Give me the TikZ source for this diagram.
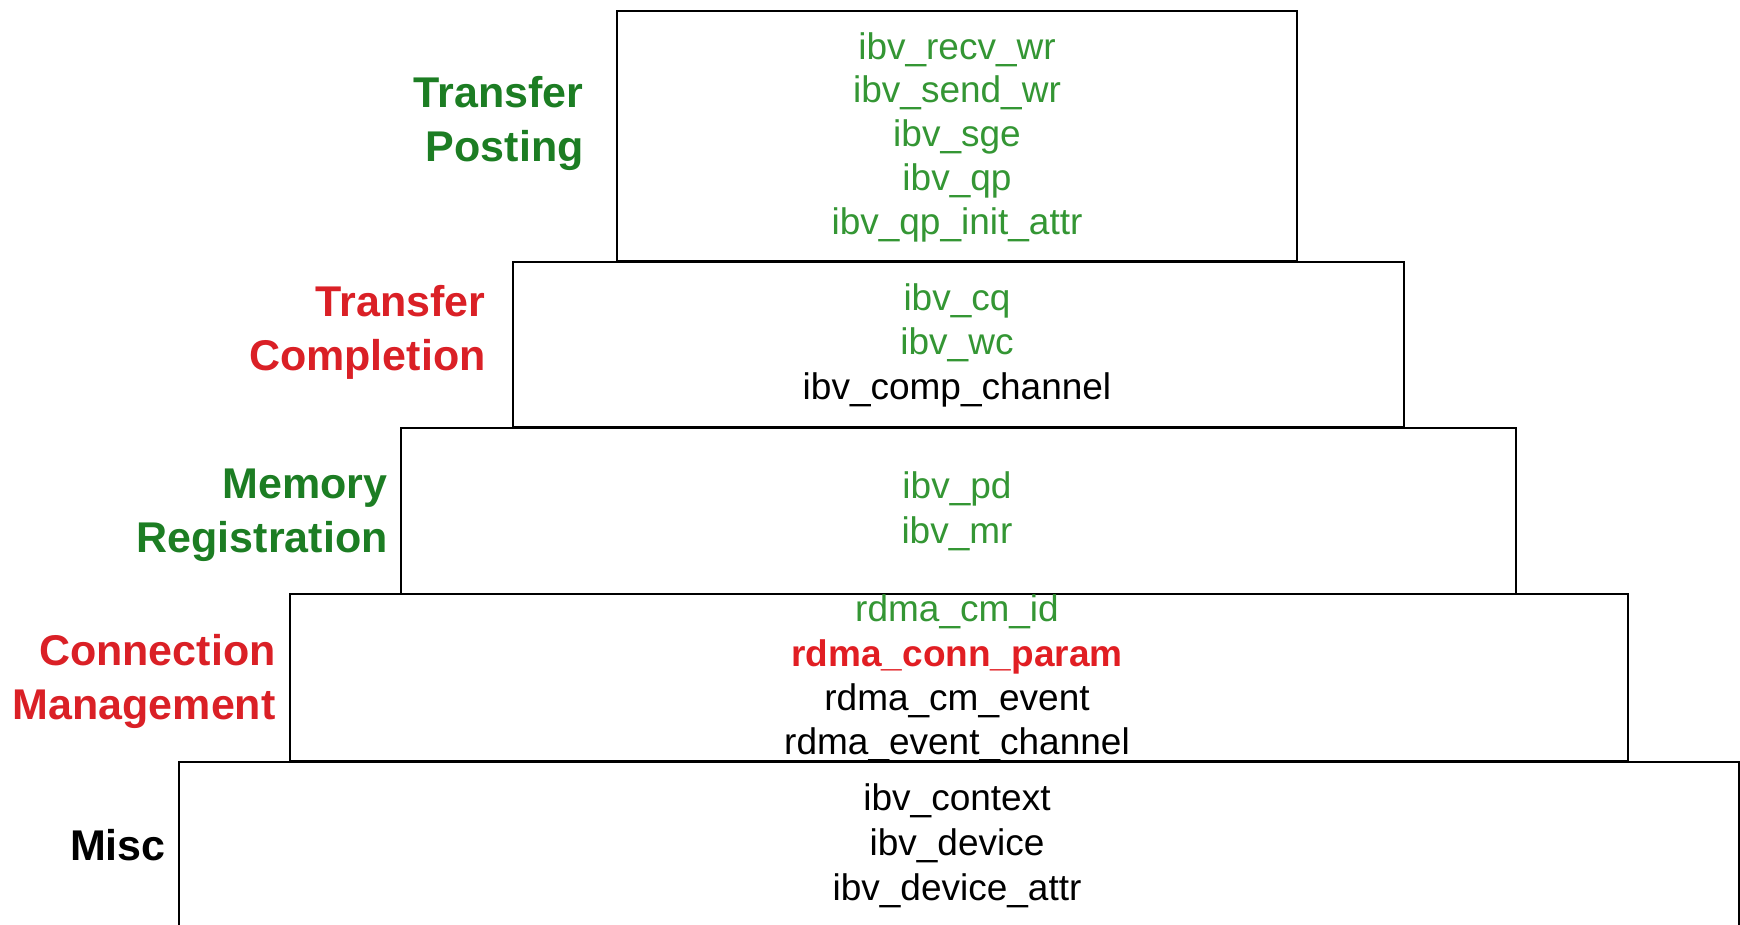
\documentclass[tikz,border=0pt]{standalone}
\usepackage{fontspec}
\setmainfont{Liberation Sans}
\definecolor{itemgreen}{RGB}{52,150,52}
\definecolor{labelgreen}{RGB}{28,125,35}
\definecolor{labelred}{RGB}{218,32,38}
\definecolor{itemred}{RGB}{225,30,35}
\tikzset{
  layer/.style={draw=black, line width=1pt, inner sep=0pt, fill=none},
  item/.style={inner sep=0pt, font=\fontsize{18.5}{22}\selectfont, text height=0.72em, text depth=0.21em, anchor=center},
  lab/.style={inner sep=0pt, font=\fontsize{21.5}{27}\selectfont\bfseries, align=right, anchor=east},
}
\begin{document}
\begin{tikzpicture}[x=0.5pt,y=-0.5pt]
\useasboundingbox (0,0) rectangle (1740,925);
\begin{scope}
\clip (0,0) rectangle (1740,925);
% layers
\node[layer, minimum width=340pt, minimum height=125pt] (b1) at (957,136) {};
\node[layer, minimum width=445.5pt, minimum height=82.5pt] (b2) at (958.5,344.5) {};
\node[layer, minimum width=557.5pt, minimum height=83pt] (b3) at (958.5,511) {};
\node[layer, minimum width=669pt, minimum height=83.5pt] (b4) at (959,677.5) {};
\node[layer, minimum width=780pt, minimum height=90pt] (b5) at (958.5,852) {};
\end{scope}
% Transfer Posting
\node[item, text=itemgreen] (t1) at (957,54) {ibv\_recv\_wr};
\node[item, text=itemgreen] (t2) at (957,97) {ibv\_send\_wr};
\node[item, text=itemgreen] (t3) at (957,141) {ibv\_sge};
\node[item, text=itemgreen] (t4) at (957,185) {ibv\_qp};
\node[item, text=itemgreen] (t5) at (957,229) {ibv\_qp\_init\_attr};
% Transfer Completion
\node[item, text=itemgreen] (c1) at (957,305) {ibv\_cq};
\node[item, text=itemgreen] (c2) at (957,349) {ibv\_wc};
\node[item, text=black] (c3) at (957,394) {ibv\_comp\_channel};
% Memory Registration
\node[item, text=itemgreen] (m1) at (957,493) {ibv\_pd};
\node[item, text=itemgreen] (m2) at (957,538) {ibv\_mr};
% Connection Management
\node[item, text=itemgreen] (n1) at (957,616) {rdma\_cm\_id};
\node[item, text=itemred, font=\fontsize{18.5}{22}\selectfont\bfseries] (n2) at (957,661) {rdma\_conn\_param};
\node[item, text=black] (n3) at (957,705) {rdma\_cm\_event};
\node[item, text=black] (n4) at (957,749) {rdma\_event\_channel};
% Misc
\node[item, text=black] (x1) at (957,805) {ibv\_context};
\node[item, text=black] (x2) at (957,850) {ibv\_device};
\node[item, text=black] (x3) at (957,895) {ibv\_device\_attr};
% labels
\node[lab, text=labelgreen] (l1) at (584,123) {Transfer\\Posting};
\node[lab, text=labelred] (l2) at (486,332) {Transfer\\Completion};
\node[lab, text=labelgreen] (l3) at (388,515) {Memory\\Registration};
\node[lab, text=labelred] (l4) at (276,681) {Connection\\Management};
\node[lab, text=black] (l5) at (166,845) {Misc};
\end{tikzpicture}
\end{document}
